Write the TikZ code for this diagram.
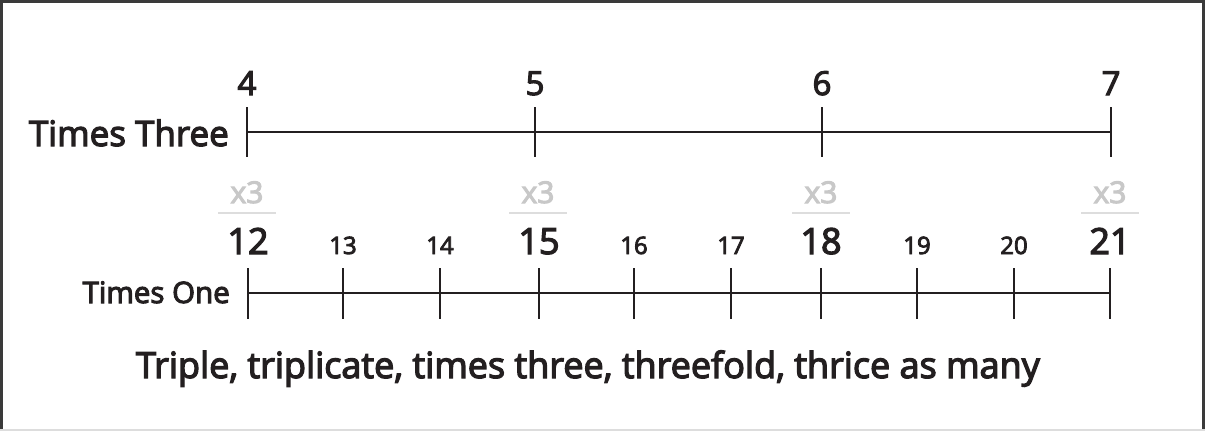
\documentclass[tikz,border=0pt]{standalone}
\usepackage{fontspec}
\setmainfont{Open Sans}[FakeBold=3.5]
\definecolor{ink}{HTML}{231F20}
\definecolor{faint}{HTML}{C8C8C8}
\definecolor{rule}{HTML}{DDDDDD}
\definecolor{frame}{HTML}{3A3A3A}
\begin{document}
\begin{tikzpicture}[x=1pt,y=-1pt,
  axis/.style={draw=ink,line width=2.6pt},
  tick/.style={draw=ink,line width=2.6pt},
  bignum/.style={anchor=base,text=ink,inner sep=0pt,font=\fontsize{33}{36}\selectfont},
  midnum/.style={anchor=base,text=ink,inner sep=0pt,font=\fontsize{36}{38}\selectfont},
  smallnum/.style={anchor=base,text=ink,inner sep=0pt,font=\fontsize{24}{28}\selectfont},
  factor/.style={anchor=base,text=faint,inner sep=0pt,font=\fontsize{30}{32}\selectfont},
  caption/.style={anchor=base east,text=ink,inner sep=0pt,font=\fontsize{35}{38}\selectfont}]
\useasboundingbox (0,0) rectangle (1205,431);
% frame
\draw[frame,line width=3pt] (1.5,431) -- (1.5,1.5) -- (1203.5,1.5) -- (1203.5,431);
\draw[rule,line width=2pt] (0,430) -- (1205,430);

% upper number line: times three
\coordinate (ta) at (247,132);
\coordinate (tb) at (1111,132);
\draw[axis] (ta) -- (tb);
\foreach \x/\n [count=\i] in {247/4,535/5,822/6,1111/7}{
  \draw[tick] (\x,107) -- (\x,157);
  \node[bignum] (top\i) at (\x,95) {\n};
}
\node[caption] (lblthree) at (229,146) {Times Three};

% factor marks
\foreach \x [count=\i] in {247,538,821,1110}{
  \node[factor] (fx\i) at (\x,203) {x3};
  \draw[rule,line width=2pt] (\x-29,213) -- (\x+29,213);
}

% lower number line: times one
\coordinate (ba) at (248,293);
\coordinate (bb) at (1110,293);
\draw[axis] (ba) -- (bb);
\foreach \x/\n/\s [count=\i] in {248/12/midnum,343/13/smallnum,440/14/smallnum,539/15/midnum,634/16/smallnum,731/17/smallnum,821/18/midnum,917/19/smallnum,1014/20/smallnum,1110/21/midnum}{
  \draw[tick] (\x,268) -- (\x,319);
  \node[\s] (bot\i) at (\x,254) {\n};
}
\node[caption,font=\fontsize{29.5}{32}\selectfont] (lblone) at (230,303) {Times One};

% sentence
\node[anchor=base,text=ink,inner sep=0pt,font=\fontsize{36}{40}\selectfont] (words) at (588,378)
  {Triple, triplicate, times three, threefold, thrice as many};
\end{tikzpicture}
\end{document}
